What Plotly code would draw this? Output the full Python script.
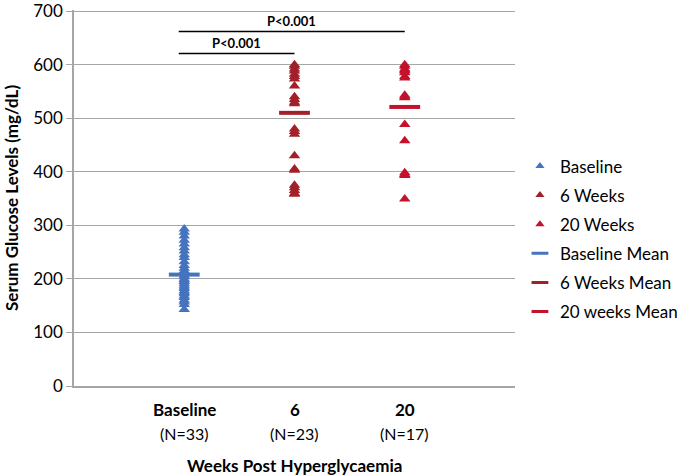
import plotly.graph_objects as go

# ---- data ----
categories = ["Baseline", "6", "20"]
cat_counts = ["(N=33)", "(N=23)", "(N=17)"]
cat_pos = [1, 2, 3]

baseline_vals = [293, 287, 280, 272, 265, 258, 252, 245, 240, 232, 225, 220, 215,
                 212, 210, 207, 204, 200, 198, 195, 192, 188, 185, 182, 178, 175,
                 172, 168, 165, 160, 157, 152, 143]
week6_vals = [600, 597, 592, 588, 582, 578, 573, 560, 540, 535, 530, 527, 480,
              475, 470, 430, 405, 403, 375, 370, 365, 360, 358]
week20_vals = [600, 597, 592, 588, 578, 575, 543, 538, 540, 488, 458, 398,
               393, 395, 349, 590, 585]
mean_vals = [208, 510, 521]

series_names = ["Baseline", "6 Weeks", "20 Weeks"]
mean_names = ["Baseline Mean", "6 Weeks Mean", "20 weeks Mean"]
colors = ["#4673BE", "#A3202A", "#C3122B"]

y_ticks = [0, 100, 200, 300, 400, 500, 600, 700]

sig_pairs = [(1, 3, 662), (1, 2, 621)]
sig_text = ["P<0.001", "P<0.001"]

FONT = "Lato"

fig = go.Figure()
all_vals = [baseline_vals, week6_vals, week20_vals]
for i, (name, vals) in enumerate(zip(series_names, all_vals)):
    fig.add_trace(go.Scatter(
        x=[cat_pos[i]] * len(vals), y=vals, mode="markers", name=name,
        showlegend=False,
        marker=dict(symbol="triangle-up", size=10, color=colors[i]),
    ))
for i, name in enumerate(mean_names):
    fig.add_trace(go.Scatter(
        x=[cat_pos[i]], y=[mean_vals[i]], mode="markers", name=name,
        showlegend=False,
        marker=dict(symbol="line-ew", size=22, color=colors[i],
                    line=dict(width=4, color=colors[i])),
    ))
# legend entries (smaller symbols, as in the reference legend)
for i, name in enumerate(series_names):
    fig.add_trace(go.Scatter(
        x=[None], y=[None], mode="markers", name=name, legendgroup=name,
        marker=dict(symbol="triangle-up", size=8, color=colors[i]),
    ))
for i, name in enumerate(mean_names):
    fig.add_trace(go.Scatter(
        x=[None], y=[None], mode="markers", name=name, legendgroup=name,
        marker=dict(symbol="line-ew", size=12, color=colors[i],
                    line=dict(width=3, color=colors[i])),
    ))

shapes = []
annotations = []
for (x0, x1, yv), txt in zip(sig_pairs, sig_text):
    shapes.append(dict(type="line", xref="x", yref="y", x0=x0 - 0.05, x1=x1,
                       y0=yv, y1=yv, line=dict(color="black", width=1.5)))
    annotations.append(dict(xref="x", yref="y", x=(x0 - 0.05 + x1) / 2, y=yv,
                            text="<b>" + txt + "</b>", showarrow=False,
                            yanchor="bottom", yshift=0,
                            font=dict(family=FONT, size=13, color="black")))

for p, c, n in zip(cat_pos, categories, cat_counts):
    annotations.append(dict(xref="x", yref="paper", x=p, y=0, yanchor="middle",
                            yshift=-23, text="<b>" + c + "</b>", showarrow=False,
                            font=dict(family=FONT, size=17, color="black")))
    annotations.append(dict(xref="x", yref="paper", x=p, y=0, yanchor="middle",
                            yshift=-47, text=n, showarrow=False,
                            font=dict(family=FONT, size=16, color="black")))
annotations.append(dict(xref="paper", yref="paper", x=0.5, y=0, yanchor="middle",
                        yshift=-79, text="<b>Weeks Post Hyperglycaemia</b>",
                        showarrow=False,
                        font=dict(family=FONT, size=17, color="black")))
annotations.append(dict(xref="paper", yref="paper", x=0, y=0.5, xshift=-63,
                        xanchor="center", yanchor="middle", textangle=-90,
                        text="<b>Serum Glucose Levels (mg/dL)</b>",
                        showarrow=False,
                        font=dict(family=FONT, size=17, color="black")))

fig.update_layout(
    width=677, height=475,
    margin=dict(l=74, r=162, t=10, b=89),
    plot_bgcolor="white", paper_bgcolor="white",
    font=dict(family=FONT, size=16, color="black"),
    showlegend=True,
    legend=dict(xref="container", x=0.768, xanchor="left",
                yref="container", y=0.497, yanchor="middle",
                tracegroupgap=4,
                font=dict(family=FONT, size=17, color="black")),
    xaxis=dict(range=[0, 4], showticklabels=False, showgrid=False,
               zeroline=False, showline=True, linecolor="#A6A6A6", linewidth=1.5,
               ticks="", automargin=False),
    yaxis=dict(range=[0, 702], tickvals=y_ticks, showgrid=True,
               gridcolor="#A6A6A6", gridwidth=1, zeroline=False, showline=True,
               linecolor="#A6A6A6", linewidth=1.5, ticks="outside", ticklen=6,
               tickcolor="#A6A6A6", ticklabeloverflow="allow", automargin=False,
               tickfont=dict(family=FONT, size=17, color="black")),
    shapes=shapes, annotations=annotations,
)

fig.write_html("out.html", config={"displayModeBar": False},
               post_script="document.body.style.margin='0';")
